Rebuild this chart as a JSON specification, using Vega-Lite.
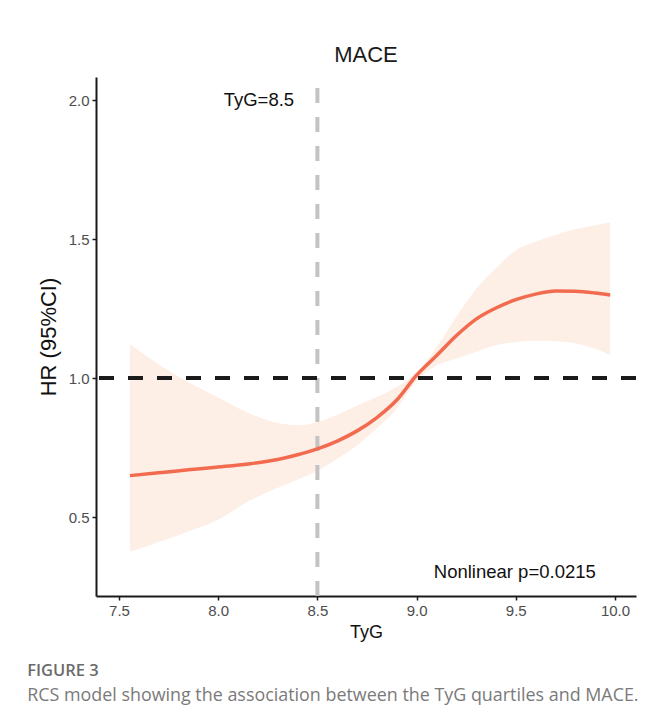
{
  "$schema": "https://vega.github.io/schema/vega-lite/v6.json",
  "background": "white",
  "padding": {"left": 27, "top": 44, "right": 30, "bottom": 18},
  "title": {
    "text": "FIGURE 3",
    "subtitle": "RCS model showing the association between the TyG quartiles and MACE.",
    "orient": "bottom",
    "anchor": "start",
    "frame": "bounds",
    "offset": 22,
    "dx": -10,
    "font": "Open Sans",
    "fontSize": 16.5,
    "fontWeight": 600,
    "color": "#6b6b6b",
    "subtitleFont": "Open Sans",
    "subtitleFontSize": 17.9,
    "subtitleColor": "#7a7a7a",
    "subtitlePadding": 7
  },
  "vconcat": [
    {
      "width": 540,
      "height": 519,
      "title": {"text": "MACE", "font": "Liberation Sans", "fontSize": 22, "fontWeight": "normal", "color": "#1a1a1a", "anchor": "middle", "offset": 8},
      "layer": [
        {
          "data": {"name": "curve"},
          "mark": {"type": "area", "color": "#fdeee6", "opacity": 1, "interpolate": "monotone"},
          "encoding": {
            "x": {"field": "tyg", "type": "quantitative", "scale": {"domain": [7.384, 10.106], "nice": false, "zero": false},
                  "axis": {"values": [7.5, 8.0, 8.5, 9.0, 9.5, 10.0], "format": ".1f", "title": "TyG"}},
            "y": {"field": "lower", "type": "quantitative", "scale": {"domain": [0.216, 2.083], "nice": false, "zero": false},
                  "axis": {"values": [0.5, 1.0, 1.5, 2.0], "format": ".1f", "title": "HR (95%CI)"}},
            "y2": {"field": "upper"}
          }
        },
        {
          "data": {"values": [{"v": 8.5}]},
          "mark": {"type": "rule", "color": "#c3c3c3", "strokeWidth": 4, "strokeDash": [15, 14], "strokeDashOffset": 18},
          "encoding": {"x": {"field": "v", "type": "quantitative"}}
        },
        {
          "data": {"values": [{"h": 1.0}]},
          "mark": {"type": "rule", "color": "#1a1a1a", "strokeWidth": 4, "strokeDash": [15, 14]},
          "encoding": {"y": {"field": "h", "type": "quantitative"}}
        },
        {
          "data": {"name": "curve"},
          "mark": {"type": "line", "color": "#f26b4f", "strokeWidth": 3.5, "interpolate": "monotone"},
          "encoding": {
            "x": {"field": "tyg", "type": "quantitative"},
            "y": {"field": "hr", "type": "quantitative"}
          }
        },
        {
          "data": {"values": [
            {"tx": 8.205, "ty": 2.0, "label": "TyG=8.5"},
            {"tx": 9.495, "ty": 0.302, "label": "Nonlinear p=0.0215"}
          ]},
          "mark": {"type": "text", "font": "Liberation Sans", "fontSize": 18.5, "color": "#111111", "align": "center", "baseline": "middle"},
          "encoding": {
            "x": {"field": "tx", "type": "quantitative"},
            "y": {"field": "ty", "type": "quantitative"},
            "text": {"field": "label"}
          }
        }
      ]
    }
  ],
  "datasets": {
    "curve": [
      {"tyg": 7.555, "hr": 0.649, "lower": 0.375, "upper": 1.122},
      {"tyg": 7.7, "hr": 0.659, "lower": 0.41, "upper": 1.05},
      {"tyg": 7.85, "hr": 0.670, "lower": 0.448, "upper": 0.985},
      {"tyg": 8.0, "hr": 0.680, "lower": 0.49, "upper": 0.93},
      {"tyg": 8.15, "hr": 0.691, "lower": 0.556, "upper": 0.875},
      {"tyg": 8.3, "hr": 0.707, "lower": 0.605, "upper": 0.838},
      {"tyg": 8.4, "hr": 0.724, "lower": 0.635, "upper": 0.830},
      {"tyg": 8.5, "hr": 0.745, "lower": 0.667, "upper": 0.841},
      {"tyg": 8.6, "hr": 0.773, "lower": 0.71, "upper": 0.868},
      {"tyg": 8.7, "hr": 0.81, "lower": 0.758, "upper": 0.9},
      {"tyg": 8.8, "hr": 0.858, "lower": 0.82, "upper": 0.932},
      {"tyg": 8.9, "hr": 0.921, "lower": 0.89, "upper": 0.968},
      {"tyg": 9.0, "hr": 1.01, "lower": 0.99, "upper": 1.02},
      {"tyg": 9.1, "hr": 1.08, "lower": 1.045, "upper": 1.11},
      {"tyg": 9.2, "hr": 1.152, "lower": 1.07, "upper": 1.22},
      {"tyg": 9.3, "hr": 1.212, "lower": 1.095, "upper": 1.32},
      {"tyg": 9.4, "hr": 1.252, "lower": 1.118, "upper": 1.395},
      {"tyg": 9.5, "hr": 1.282, "lower": 1.13, "upper": 1.46},
      {"tyg": 9.6, "hr": 1.302, "lower": 1.134, "upper": 1.49},
      {"tyg": 9.7, "hr": 1.313, "lower": 1.132, "upper": 1.515},
      {"tyg": 9.8, "hr": 1.312, "lower": 1.125, "upper": 1.535},
      {"tyg": 9.9, "hr": 1.306, "lower": 1.105, "upper": 1.55},
      {"tyg": 9.976, "hr": 1.299, "lower": 1.083, "upper": 1.56}
    ]
  },
  "config": {
    "view": {"stroke": null},
    "font": "Liberation Sans",
    "axis": {
      "grid": false,
      "domainColor": "#1a1a1a",
      "domainWidth": 2,
      "tickColor": "#1a1a1a",
      "tickWidth": 1.5,
      "tickSize": 4,
      "labelColor": "#4d4d4d",
      "labelFont": "Liberation Sans",
      "labelFontSize": 15,
      "labelPadding": 3,
      "titleFont": "Liberation Sans",
      "titleFontWeight": "normal",
      "titleColor": "#111111"
    },
    "axisX": {"titlePadding": 5, "titleFontSize": 18},
    "axisY": {"titlePadding": 8, "titleFontSize": 22}
  }
}
